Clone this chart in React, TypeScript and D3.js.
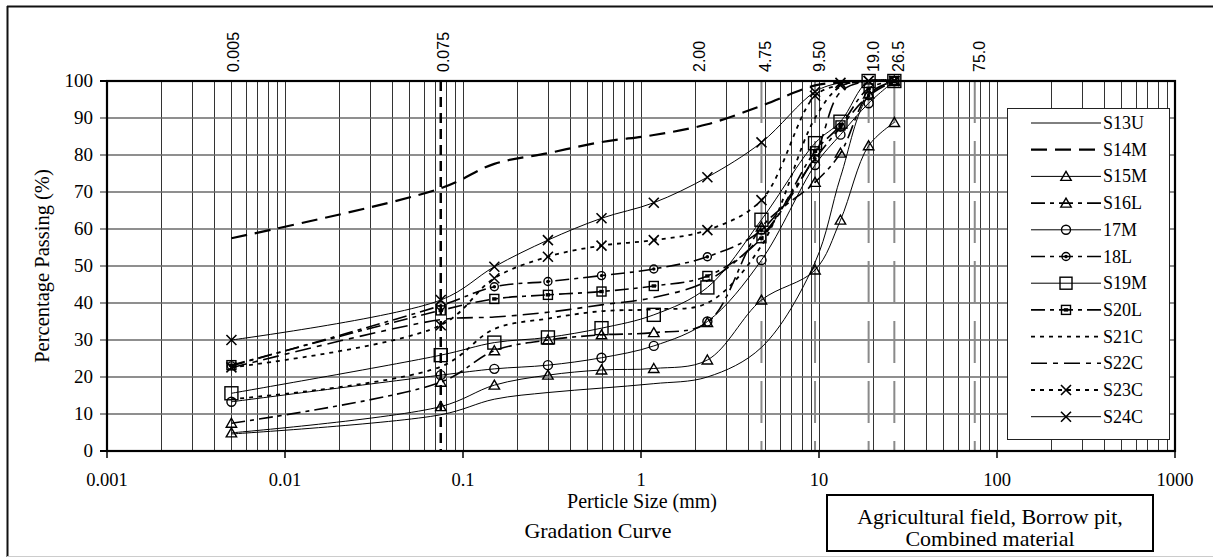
import React, { useRef, useEffect } from 'react';
import * as d3 from 'd3';

// sieve openings (mm) used for every sample
const sieveSizes = [0.005, 0.075, 0.15, 0.3, 0.6, 1.18, 2.36, 4.75, 9.5, 13.2, 19, 26.5];

const seriesNames = ['S13U', 'S14M', 'S15M', 'S16L', '17M', '18L', 'S19M', 'S20L', 'S21C', 'S22C', 'S23C', 'S24C'];

// percentage passing, one array per sample
const s13U = [4.6, 9.8, 14.0, 15.8, 17.0, 18.2, 20.0, 28.0, 51.0, 74.0, 96.0, 100];
const s14M = [57.5, 71.0, 77.6, 80.5, 83.5, 85.4, 88.3, 93.3, 98.8, 99.6, 100, 100];
const s15M = [4.9, 12.0, 17.8, 20.5, 21.9, 22.3, 24.6, 40.8, 48.9, 62.4, 82.5, 88.8];
const s16L = [7.5, 18.6, 27.1, 30.0, 31.4, 32.0, 34.7, 60.5, 72.6, 80.5, 96.5, 100];
const s17M = [13.3, 20.5, 22.2, 23.2, 25.2, 28.4, 35.0, 51.6, 77.3, 85.5, 94.0, 100];
const s18L = [23.0, 39.3, 44.4, 45.8, 47.4, 49.2, 52.5, 59.7, 79.0, 87.5, 96.0, 100];
const s19M = [15.6, 25.9, 29.3, 30.7, 33.2, 36.8, 44.2, 62.5, 83.2, 89.0, 100, 100];
const s20L = [23.2, 38.0, 41.1, 42.2, 43.1, 44.6, 47.3, 57.5, 81.0, 88.0, 98.0, 100];
const s21C = [14.0, 22.8, 33.0, 35.8, 37.8, 38.3, 40.0, 55.5, 90.0, 98.5, 100, 100];
const s22C = [22.5, 35.5, 36.2, 37.5, 39.5, 41.5, 46.0, 58.0, 80.0, 97.0, 100, 100];
const s23C = [22.6, 34.0, 46.7, 52.5, 55.5, 57.0, 59.7, 67.8, 96.0, 98.9, 100, 100];
const s24C = [30.0, 40.8, 49.8, 57.0, 62.9, 67.1, 74.0, 83.4, 97.1, 99.5, 100, 100];

const seriesValues = [s13U, s14M, s15M, s16L, s17M, s18L, s19M, s20L, s21C, s22C, s23C, s24C];

const xTickValues = [0.001, 0.01, 0.1, 1, 10, 100, 1000];
const xTickLabels = ['0.001', '0.01', '0.1', '1', '10', '100', '1000'];
const yTickValues = [0, 10, 20, 30, 40, 50, 60, 70, 80, 90, 100];

const sieveMarks = [0.005, 0.075, 2, 4.75, 9.5, 19, 26.5, 75];
const sieveLabels = ['0.005', '0.075', '2.00', '4.75', '9.50', '19.0', '26.5', '75.0'];
const dashedSieves = [0.075, 4.75, 9.5, 19, 26.5, 75];

// line look per sample
const lineStyle = {
  S13U: { dash: null, width: 1, marker: 'none' },
  S14M: { dash: '16,8', width: 2.2, marker: 'none' },
  S15M: { dash: null, width: 1, marker: 'triangle' },
  S16L: { dash: '14,5,4,5', width: 1.6, marker: 'triangle' },
  '17M': { dash: null, width: 1, marker: 'circle' },
  '18L': { dash: '14,5,4,5', width: 1.6, marker: 'circleDot' },
  S19M: { dash: null, width: 1, marker: 'square' },
  S20L: { dash: '14,5,4,5', width: 1.6, marker: 'squareDot' },
  S21C: { dash: '4,5', width: 1.8, marker: 'none' },
  S22C: { dash: '16,6,5,6', width: 1.6, marker: 'none' },
  S23C: { dash: '4,5', width: 1.8, marker: 'x' },
  S24C: { dash: null, width: 1, marker: 'x' },
};

const W = 1213;
const H = 558;
const serif = '"Liberation Serif", "Times New Roman", serif';

const drawMarker = (g, type, x, y, small = false) => {
  const m = g.append('g').attr('transform', `translate(${x},${y})`)
    .attr('fill', 'none').attr('stroke', '#000').attr('stroke-width', 1.4);
  if (type === 'triangle') {
    m.append('path').attr('d', 'M0,-5L5.2,4L-5.2,4Z');
  } else if (type === 'circle') {
    m.append('circle').attr('r', 4.5);
  } else if (type === 'circleDot') {
    m.append('circle').attr('r', 4);
    m.append('circle').attr('r', 1).attr('fill', '#000');
  } else if (type === 'square') {
    const s = small ? 12 : 13;
    m.append('rect').attr('x', -s / 2).attr('y', -s / 2).attr('width', s).attr('height', s);
  } else if (type === 'squareDot') {
    m.append('rect').attr('x', -4.5).attr('y', -4.5).attr('width', 9).attr('height', 9);
    m.append('rect').attr('x', -1.5).attr('y', -1).attr('width', 3).attr('height', 2).attr('fill', '#000');
  } else if (type === 'x') {
    m.append('path').attr('d', 'M-5,-5L5,5M-5,5L5,-5').attr('stroke-width', 1.6);
  }
};

const GradationChart = () => {
  const svgRef = useRef(null);

  useEffect(() => {
    const svg = d3.select(svgRef.current);
    svg.selectAll('*').remove();

    const plot = { left: 107, right: 1175, top: 81, bottom: 451 };

    const x = d3.scaleLog().domain([0.001, 1000]).range([plot.left, plot.right]);
    const y = d3.scaleLinear().domain([0, 100]).range([plot.bottom, plot.top]);

    svg.append('rect').attr('width', W).attr('height', H).attr('fill', '#fff');

    // outer frame
    svg.append('line').attr('x1', 7).attr('x2', W).attr('y1', 6.5).attr('y2', 6.5)
      .attr('stroke', '#111').attr('stroke-width', 2);
    svg.append('line').attr('x1', 7.5).attr('x2', 7.5).attr('y1', 6).attr('y2', 557)
      .attr('stroke', '#111').attr('stroke-width', 2);
    svg.append('line').attr('x1', 7).attr('x2', W).attr('y1', 556.5).attr('y2', 556.5)
      .attr('stroke', '#ccc').attr('stroke-width', 1);

    svg.append('defs').append('clipPath').attr('id', 'plot-clip')
      .append('rect').attr('x', plot.left).attr('y', plot.top - 2)
      .attr('width', plot.right - plot.left).attr('height', plot.bottom - plot.top + 2);

    // vertical grid (log minor lines)
    const minor = [];
    for (let d = 0.001; d < 1000; d *= 10) {
      for (let k = 1; k < 10; k++) minor.push(+(d * k).toPrecision(3));
    }
    svg.append('g').selectAll('line').data(minor).enter().append('line')
      .attr('x1', d => Math.round(x(d)) + 0.5).attr('x2', d => Math.round(x(d)) + 0.5)
      .attr('y1', plot.top).attr('y2', plot.bottom)
      .attr('stroke', '#333').attr('stroke-width', 1);

    // horizontal grid
    svg.append('g').selectAll('line').data(yTickValues.slice(1, -1)).enter().append('line')
      .attr('x1', plot.left - 7).attr('x2', plot.right)
      .attr('y1', d => y(d)).attr('y2', d => y(d))
      .attr('stroke', '#6a6a6a').attr('stroke-width', 1.5);

    // sieve reference lines
    svg.append('g').selectAll('line').data(dashedSieves).enter().append('line')
      .attr('x1', d => x(d)).attr('x2', d => x(d))
      .attr('y1', plot.top).attr('y2', plot.bottom)
      .attr('stroke', d => (d === 0.075 ? '#000' : '#8a8a8a'))
      .attr('stroke-width', d => (d === 0.075 ? 2.5 : 2))
      .attr('stroke-dasharray', d => (d === 0.075 ? '10,6' : '42,18'));

    // curves
    const lineGen = d3.line()
      .x(d => x(d[0]))
      .y(d => y(d[1]))
      .curve(d3.curveCatmullRom.alpha(0.5));

    const series = seriesNames.map((name, i) => ({
      name,
      points: sieveSizes.map((s, j) => [s, seriesValues[i][j]]),
    }));

    const lines = svg.append('g').attr('clip-path', 'url(#plot-clip)');
    series.forEach(s => {
      const st = lineStyle[s.name];
      lines.append('path')
        .attr('d', lineGen(s.points))
        .attr('fill', 'none')
        .attr('stroke', '#000')
        .attr('stroke-width', st.width)
        .attr('stroke-dasharray', st.dash);
    });

    const marks = svg.append('g');
    series.forEach(s => {
      const st = lineStyle[s.name];
      if (st.marker === 'none') return;
      s.points.forEach(p => drawMarker(marks, st.marker, x(p[0]), y(p[1])));
    });

    // plot border
    svg.append('rect')
      .attr('x', plot.left).attr('y', plot.top)
      .attr('width', plot.right - plot.left).attr('height', plot.bottom - plot.top)
      .attr('fill', 'none').attr('stroke', '#000').attr('stroke-width', 2.2);

    // y axis ticks and labels
    svg.append('g').selectAll('line').data([0, 100]).enter().append('line')
      .attr('x1', plot.left - 7).attr('x2', plot.left)
      .attr('y1', d => y(d)).attr('y2', d => y(d))
      .attr('stroke', '#000').attr('stroke-width', 2);
    svg.append('g').selectAll('text').data(yTickValues).enter().append('text')
      .attr('x', 93).attr('y', d => y(d) + 6)
      .attr('text-anchor', 'end')
      .attr('font-family', serif)
      .attr('font-size', 19)
      .text(d => d);

    // x axis ticks and labels
    svg.append('g').selectAll('line').data(xTickValues).enter().append('line')
      .attr('x1', d => x(d)).attr('x2', d => x(d))
      .attr('y1', plot.bottom).attr('y2', plot.bottom + 7)
      .attr('stroke', '#000').attr('stroke-width', 1.5);
    svg.append('g').selectAll('text').data(xTickValues).enter().append('text')
      .attr('x', d => x(d)).attr('y', 486)
      .attr('text-anchor', 'middle')
      .attr('font-family', serif)
      .attr('font-size', 18.5)
      .text((d, i) => xTickLabels[i]);

    // sieve labels on top
    svg.append('g').selectAll('text').data(sieveMarks).enter().append('text')
      .attr('transform', d => `translate(${x(d) + (d < 1 ? 8 : 10)},72) rotate(-90)`)
      .attr('font-family', '"Liberation Sans", Arial, sans-serif')
      .attr('font-size', 16)
      .text((d, i) => sieveLabels[i]);

    // axis titles
    svg.append('text')
      .attr('transform', `translate(49,${(plot.top + plot.bottom) / 2}) rotate(-90)`)
      .attr('text-anchor', 'middle')
      .attr('font-family', serif)
      .attr('font-size', 20.5)
      .text('Percentage Passing (%)');

    svg.append('text')
      .attr('x', 642).attr('y', 508)
      .attr('text-anchor', 'middle')
      .attr('font-family', serif)
      .attr('font-size', 20)
      .text('Perticle Size (mm)');

    svg.append('text')
      .attr('x', 598).attr('y', 538)
      .attr('text-anchor', 'middle')
      .attr('font-family', serif)
      .attr('font-size', 20)
      .attr('transform', 'translate(598,0) scale(1.1,1) translate(-598,0)')
      .text('Gradation Curve');

    // caption box
    svg.append('rect')
      .attr('x', 827).attr('y', 495).attr('width', 326).attr('height', 56)
      .attr('fill', '#fff').attr('stroke', '#000').attr('stroke-width', 2);
    ['Agricultural field, Borrow pit,', 'Combined material'].forEach((t, i) => {
      svg.append('text')
        .attr('x', 990).attr('y', 524 + i * 22)
        .attr('text-anchor', 'middle')
        .attr('font-family', serif)
        .attr('font-size', 20)
        .attr('transform', 'translate(990,0) scale(1.1,1) translate(-990,0)')
        .text(t);
    });

    // legend
    const legend = svg.append('g');
    legend.append('rect')
      .attr('x', 1007.5).attr('y', 108.5).attr('width', 162).attr('height', 331)
      .attr('fill', '#fff').attr('stroke', '#222').attr('stroke-width', 1);
    series.forEach((s, i) => {
      const st = lineStyle[s.name];
      const ly = 123 + i * 26.7;
      legend.append('line')
        .attr('x1', 1031).attr('x2', 1101).attr('y1', ly).attr('y2', ly)
        .attr('stroke', '#000').attr('stroke-width', st.width)
        .attr('stroke-dasharray', st.dash);
      if (st.marker !== 'none') drawMarker(legend, st.marker, 1066, ly, true);
      legend.append('text')
        .attr('x', 1103).attr('y', ly + 6)
        .attr('font-family', serif)
        .attr('font-size', 18)
        .text(s.name);
    });
  }, []);

  return <svg ref={svgRef} width={W} height={H} style={{ position: 'absolute', left: 0, top: 0 }}></svg>;
};

export default function App() {
  return <GradationChart />;
}
